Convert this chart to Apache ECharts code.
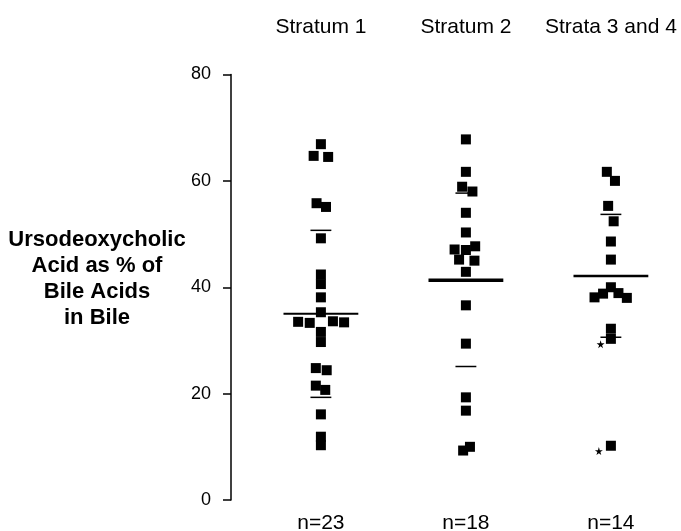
<!DOCTYPE html>
<html>
<head>
<meta charset="utf-8">
<script src="https://cdn.jsdelivr.net/npm/echarts@6/dist/echarts.min.js"></script>
<style>html,body{margin:0;padding:0;background:#fff;}#chart{width:681px;height:531px;}</style>
</head>
<body>
<div id="chart"></div>
<script>
// ---- data ----
const categories = ['Stratum 1', 'Stratum 2', 'Strata 3 and 4'];
const nLabels = ['n=23', 'n=18', 'n=14'];
const yTicks = [0, 20, 40, 60, 80];

const stratum1Values = [66.9, 64.7, 64.5, 55.8, 55.1, 49.2, 42.4, 40.6, 38.1, 35.3, 33.5, 33.3, 33.6, 33.4, 31.6, 29.7, 24.8, 24.4, 21.5, 20.7, 16.1, 11.9, 10.3];
const stratum1Jitter = [0, -0.05, 0.05, -0.03, 0.035, 0, 0, 0, 0, 0, -0.157, -0.077, 0.083, 0.16, 0, 0, -0.035, 0.04, -0.035, 0.03, 0, 0, 0];

const stratum2Values = [67.8, 61.7, 58.9, 58.0, 54.0, 50.3, 47.1, 47.0, 47.7, 45.2, 45.0, 42.9, 36.6, 29.4, 19.3, 16.8, 10.0, 9.3];
const stratum2Jitter = [0, 0, -0.026, 0.045, 0, 0, -0.078, 0, 0.064, -0.047, 0.059, 0, 0, 0, 0, 0, 0.028, -0.019];

const strata34Values = [61.7, 60.0, 55.3, 52.4, 48.6, 45.2, 40.0, 38.8, 38.1, 38.9, 38.0, 32.2, 30.3, 10.2];
const strata34Jitter = [-0.028, 0.028, -0.019, 0.019, 0, 0, 0, -0.054, -0.113, 0.052, 0.11, 0, 0, 0];

const starredValues = [29.3, 9.2];
const starredJitter = [-0.071, -0.083];
const starredGroup = 2;

const means = [35.0, 41.3, 42.1];
const sdUpper = [50.7, 57.7, 53.7];
const sdLower = [19.3, 25.1, 30.6];

// ---- styles ----
const meanHalf = 0.258, sdHalf = 0.072;
const meanLineWidths = [2, 3.5, 2.5];
const sdLineWidth = 1.5;
const FONT = '"Liberation Sans", Arial, Helvetica, sans-serif';

function pts(vals, jit, idx) { return vals.map((v, i) => [idx + jit[i], v]); }

function segSeries(vals, half, widthFn) {
  return {
    type: 'custom',
    data: vals.map((v, i) => [i, v]),
    z: 1,
    renderItem: function (params, api) {
      const i = api.value(0), v = api.value(1);
      const p1 = api.coord([i - half, v]);
      const p2 = api.coord([i + half, v]);
      return { type: 'line', shape: { x1: p1[0], y1: p1[1], x2: p2[0], y2: p2[1] },
               style: { stroke: '#000', lineWidth: widthFn(i) } };
    }
  };
}

const sq = { type: 'scatter', symbol: 'rect', symbolSize: 10, itemStyle: { color: '#000', opacity: 1 }, z: 3 };
const starPath = 'path://M50,0 L61,35 L98,35 L68,57 L79,91 L50,70 L21,91 L32,57 L2,35 L39,35 Z';

const xCommon = {
  type: 'value', min: -0.62, max: 2.38,
  axisLine: { show: false }, axisTick: { show: false }, splitLine: { show: false }
};

const chart = echarts.init(document.getElementById('chart'), null, { renderer: 'canvas' });
chart.setOption({
  animation: false,
  backgroundColor: '#fff',
  title: {
    text: 'Ursodeoxycholic\nAcid as % of\nBile Acids\nin Bile',
    left: 92, top: 222, textAlign: 'center',
    textStyle: { fontFamily: FONT, fontSize: 22, fontWeight: 'bold', color: '#000', lineHeight: 26 }
  },
  grid: { left: 231, right: 15, top: 74.5, bottom: 31, containLabel: false, outerBoundsMode: 'none' },
  xAxis: [
    Object.assign({}, xCommon, {
      position: 'top',
      axisLabel: { customValues: [0, 1, 2], formatter: v => categories[Math.round(v)], margin: 37,
                   fontFamily: FONT, fontSize: 21, color: '#000' }
    }),
    Object.assign({}, xCommon, {
      position: 'bottom',
      axisLabel: { customValues: [0, 1, 2], formatter: v => nLabels[Math.round(v)], margin: 13,
                   fontFamily: FONT, fontSize: 21, color: '#000' }
    })
  ],
  yAxis: {
    type: 'value', min: 0, max: 80, interval: 20,
    axisLine: { show: true, onZero: false, lineStyle: { color: '#000', width: 1.5 } },
    axisTick: { show: true, length: 8, inside: false, lineStyle: { color: '#000', width: 1.5 } },
    axisLabel: { customValues: yTicks, margin: 20, fontFamily: FONT, fontSize: 18, color: '#000' },
    splitLine: { show: false }
  },
  series: [
    Object.assign({}, sq, { data: pts(stratum1Values, stratum1Jitter, 0) }),
    Object.assign({}, sq, { data: pts(stratum2Values, stratum2Jitter, 1) }),
    Object.assign({}, sq, { data: pts(strata34Values, strata34Jitter, 2) }),
    { type: 'scatter', symbol: starPath, symbolSize: 8, itemStyle: { color: '#000', opacity: 1 }, z: 3,
      data: pts(starredValues, starredJitter, starredGroup) },
    segSeries(means, meanHalf, i => meanLineWidths[i]),
    segSeries(sdUpper, sdHalf, () => sdLineWidth),
    segSeries(sdLower, sdHalf, () => sdLineWidth)
  ]
});
</script>
</body>
</html>
